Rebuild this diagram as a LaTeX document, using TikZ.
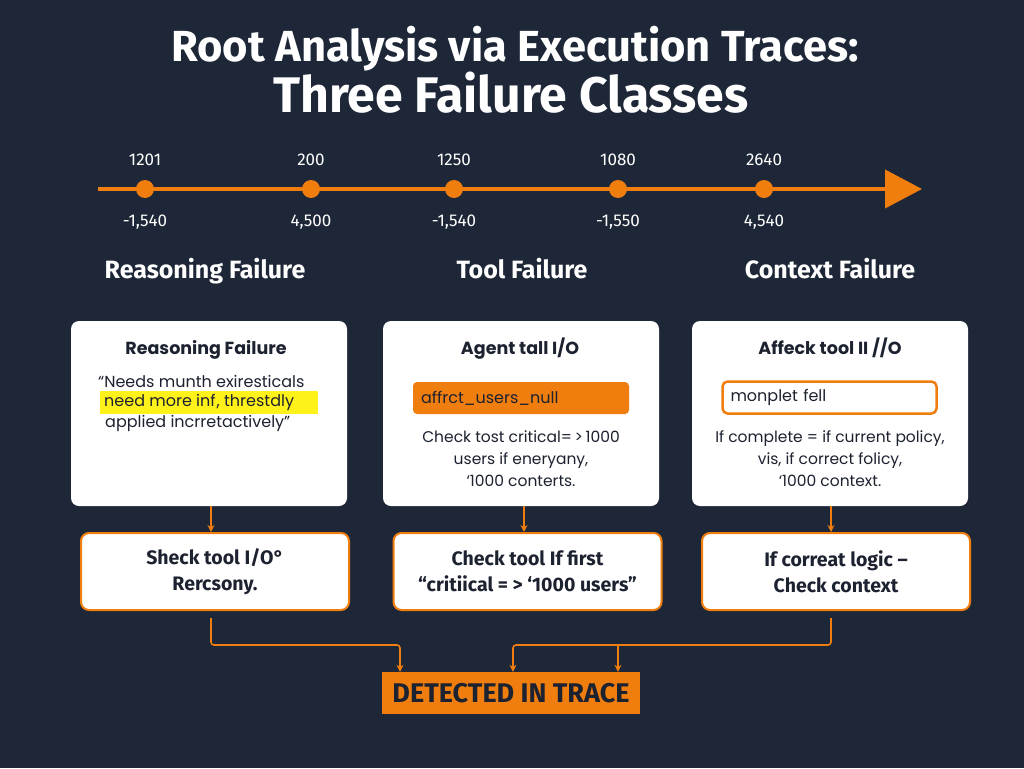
\documentclass[tikz,border=0pt]{standalone}
\usepackage{fontspec}
\setmainfont{Fira Sans}
\newfontfamily\cardfont{Poppins}
\usetikzlibrary{arrows.meta}

\definecolor{navy}{HTML}{1E2737}
\definecolor{tangerine}{HTML}{F07E0E}
\definecolor{ink}{HTML}{1D2230}
\definecolor{marker}{HTML}{FFF21A}

\begin{document}
\begin{tikzpicture}[x=1pt,y=-1pt,
    card/.style={fill=white,rounded corners=8pt,minimum width=276pt,minimum height=185pt,inner sep=0pt},
    check box/.style={draw=tangerine,line width=2pt,fill=white,rounded corners=8pt,
      minimum width=268pt,minimum height=77pt,align=center,text=ink,
      font=\fontsize{19.5}{26}\selectfont\bfseries},
    card title/.style={text=ink,font=\cardfont\fontsize{17.5}{20}\selectfont\bfseries,anchor=base},
    card line/.style={text=ink,font=\cardfont\fontsize{16}{18}\selectfont,inner sep=0pt},
    heading/.style={text=white,font=\fontsize{25}{28}\selectfont\bfseries,anchor=base},
    tick label/.style={text=white,font=\fontsize{17}{20}\selectfont},
    flow/.style={draw=tangerine,line width=1.6pt,rounded corners=3pt,
      -{Stealth[length=7pt,width=7pt]}}]
  \fill[navy] (0,0) rectangle (1024,768);
  \useasboundingbox (0,0) rectangle (1024,768);

  % title
  \node[text=white,font=\fontsize{43.5}{46}\selectfont\bfseries,anchor=base] (title1) at (515,61)
    {Root Analysis via Execution Traces:};
  \node[text=white,font=\fontsize{50}{52}\selectfont\bfseries,anchor=base] (title2) at (511,112)
    {Three Failure Classes};

  % timeline
  \coordinate (tstart) at (98,189);
  \coordinate (tend) at (922,189);
  \draw[tangerine,line width=4pt,-{Triangle[length=37pt,width=38pt]}] (tstart) -- (tend);
  \foreach \x/\up/\down [count=\i] in {145/1201/{-1,540},311/200/{4,500},454/1250/{-1,540},
      618/1080/{-1,550},764/2640/{4,540}}{
    \fill[tangerine] (\x,189) circle [radius=9pt];
    \node[tick label] (up\i) at (\x,160) {\up};
    \node[tick label] (down\i) at (\x,222) {\down};
  }

  % column headings
  \node[heading] (head1) at (205,278) {Reasoning Failure};
  \node[heading] (head2) at (522,278) {Tool Failure};
  \node[heading] (head3) at (830,278) {Context Failure};

  % cards
  \node[card] (card1) at (209,413.5) {};
  \node[card] (card2) at (521,413.5) {};
  \node[card] (card3) at (830,413.5) {};

  \node[card title] (ctitle1) at (206,354) {Reasoning Failure};
  \fill[marker] (100,391) rectangle (318,414);
  \node[card line,anchor=west] (quote1) at (98,381) {“Needs munth exiresticals};
  \node[card line,anchor=west] (quote2) at (104,402) {need more inf\kern1pt, threstdly};
  \node[card line,anchor=west] (quote3) at (105,423) {applied incrretactively”};

  \node[card title] (ctitle2) at (520,354) {Agent tall I/O};
  \node[fill=tangerine,rounded corners=4pt,minimum width=216pt,minimum height=32pt,
    text width=200pt,align=left,card line,inner sep=0pt] (field2) at (521,398)
    {affrct\_users\_null};
  \node[card line,align=center,font=\cardfont\fontsize{15.5}{22}\selectfont] (body2) at (521,459)
    {Check tost critical=\,>\,1000\\users if eneryany,\\‘1000 conterts.};

  \node[card title] (ctitle3) at (830,354) {Affeck tool II //O};
  \node[draw=tangerine,line width=2.5pt,fill=white,rounded corners=5pt,minimum width=214pt,
    minimum height=32pt,text width=198pt,align=left,card line,inner sep=0pt] (field3)
    at (829.5,397.5) {monplet fell};
  \node[card line,align=center,font=\cardfont\fontsize{15.5}{22}\selectfont] (body3) at (830,459)
    {If complete = if current policy,\\vis, if correct folicy,\\‘1000 context.};

  % checks
  \node[check box] (check1) at (215,571.5) {Sheck tool I/O°\\Rercsony.};
  \node[check box] (check2) at (527.5,571.5) {Check tool If first\\“critiical = > ‘1000 users”};
  \node[check box] (check3) at (836,571.5) {If correat logic –\\Check context};

  \draw[flow] (card1.south -| 211,0) -- (check1.north -| 211,0);
  \draw[flow] (card2.south -| 524,0) -- (check2.north -| 524,0);
  \draw[flow] (card3.south -| 831,0) -- (check3.north -| 831,0);

  % result
  \node[fill=tangerine,minimum width=258pt,minimum height=42pt,text=ink,
    font=\fontsize{27}{30}\selectfont\bfseries] (trace) at (511,693) {DETECTED IN TRACE};

  \coordinate (leftKnee) at (400,645);
  \coordinate (rightKnee) at (513,645);
  \coordinate (midDrop) at (618,645);
  \draw[flow,shorten <=7pt] (check1.south -| 211,0) |- (leftKnee) -- (leftKnee |- trace.north);
  \draw[flow,shorten <=7pt] (check3.south -| 831,0) |- (rightKnee) -- (rightKnee |- trace.north);
  \draw[flow] (midDrop) -- (midDrop |- trace.north);
\end{tikzpicture}
\end{document}
